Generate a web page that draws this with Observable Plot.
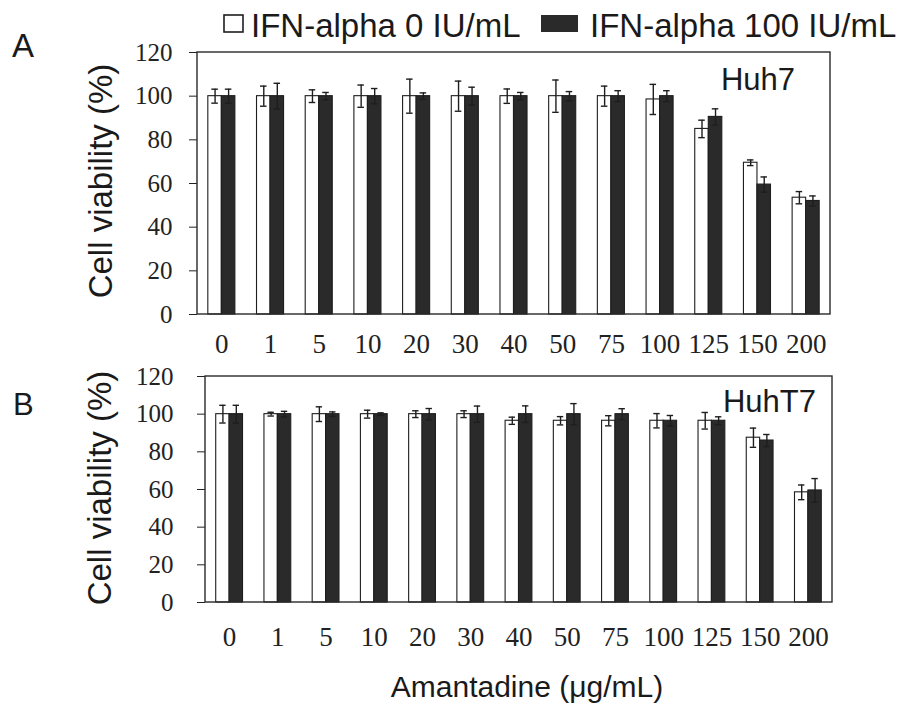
<!DOCTYPE html>
<html>
<head>
<meta charset="utf-8">
<script src="https://cdn.jsdelivr.net/npm/d3@7"></script>
<script src="https://cdn.jsdelivr.net/npm/@observablehq/plot@0.6"></script>
<style>
  html, body { margin: 0; padding: 0; background: #fff; }
  #wrap { position: relative; width: 905px; height: 706px; overflow: hidden; }
  #wrap > svg, #wrap > figure { position: absolute; left: 0; margin: 0; overflow: visible; }
  g[aria-label="y-axis tick label"] { font-family: "Liberation Serif", serif; font-size: 25px; }
  g[aria-label="fx-axis tick label"] { font-family: "Liberation Serif", serif; font-size: 27px; }
  .ann { font-family: "Liberation Sans", Arial, sans-serif; fill: #1a1a1a; }
</style>
</head>
<body>
<div id="wrap"></div>
<script>
// ---- data ----
const categories = ["0", "1", "5", "10", "20", "30", "40", "50", "75", "100", "125", "150", "200"];
const seriesNames = ["IFN-alpha 0 IU/mL", "IFN-alpha 100 IU/mL"];
const yTicks = [0, 20, 40, 60, 80, 100, 120];

// Panel A: Huh7
const huh7Ifn0      = [100, 100, 100, 100, 100, 100, 100, 100, 100, 98.5, 85, 69.5, 53.5];
const huh7Ifn0Err   = [3.2, 4.6, 2.9, 5.1, 7.8, 6.9, 3.3, 7.4, 4.6, 6.9, 4.0, 1.3, 2.8];
const huh7Ifn100    = [100, 100, 100, 100, 100, 100, 100, 100, 100, 100, 90.5, 59.5, 52];
const huh7Ifn100Err = [3.2, 5.9, 1.7, 3.5, 1.5, 4.1, 1.7, 2.1, 2.5, 2.5, 3.7, 3.5, 2.3];

// Panel B: HuhT7
const huhT7Ifn0      = [100, 100, 100, 100, 100, 100, 96.5, 96.5, 96.5, 96.5, 96.5, 87.5, 58.5];
const huhT7Ifn0Err   = [4.7, 1.0, 3.9, 2.1, 1.8, 1.8, 1.9, 2.2, 2.7, 3.8, 4.4, 5.1, 3.9];
const huhT7Ifn100    = [100, 100, 100, 100, 100, 100, 100, 100, 100, 96.5, 96.5, 86, 59.5];
const huhT7Ifn100Err = [4.7, 1.5, 1.2, 0.7, 3.0, 4.3, 4.4, 5.6, 2.9, 2.8, 2.1, 3.2, 6.3];

function rows(v0, e0, v1, e1) {
  const out = [];
  categories.forEach((c, i) => {
    out.push({cat: c, series: seriesNames[0], value: v0[i], err: e0[i]});
    out.push({cat: c, series: seriesNames[1], value: v1[i], err: e1[i]});
  });
  return out;
}

function panel(data, opt) {
  const chart = Plot.plot({
    width: 905,
    height: opt.height,
    marginTop: opt.mt,
    marginBottom: opt.mb,
    marginLeft: opt.ml,
    marginRight: opt.mr,
    style: {color: "#222", background: "transparent", fontFamily: "Liberation Serif", overflow: "visible"},
    fx: {domain: categories, padding: 0, round: false, label: null, tickSize: 0, tickPadding: opt.fxPad, axis: "bottom"},
    x: {domain: seriesNames, paddingInner: 0, paddingOuter: 0.8, round: false, axis: null},
    y: {domain: [0, 120], ticks: yTicks, tickSize: 8, tickPadding: opt.yPad, label: null},
    color: {domain: seriesNames, range: ["#ffffff", "#2a2a2a"]},
    marks: [
      Plot.barY(data, {fx: "cat", x: "series", y: "value", fill: "series", stroke: "#1e1e1e", strokeWidth: 1.1}),
      Plot.ruleX(data, {fx: "cat", x: "series", y1: d => d.value - d.err, y2: d => d.value + d.err, stroke: "#1e1e1e", strokeWidth: 1.4}),
      Plot.tickY(data, {fx: "cat", x: "series", y: d => d.value + d.err, stroke: "#1e1e1e", strokeWidth: 1.4, insetLeft: 3.5, insetRight: 3.5}),
      Plot.tickY(data, {fx: "cat", x: "series", y: d => d.value - d.err, stroke: "#1e1e1e", strokeWidth: 1.4, insetLeft: 3.5, insetRight: 3.5})
    ]
  });
  const svg = chart.tagName.toLowerCase() === "svg" ? chart : chart.querySelector("svg");
  // plot-area box (frame) derived from the margins
  d3.select(svg).append("rect")
    .attr("x", opt.ml).attr("y", opt.mt)
    .attr("width", 905 - opt.ml - opt.mr)
    .attr("height", opt.height - opt.mt - opt.mb)
    .attr("fill", "none").attr("stroke", "#2a2a2a").attr("stroke-width", 1.4);
  chart.style.top = opt.top + "px";
  return chart;
}

const wrap = document.getElementById("wrap");
wrap.appendChild(panel(rows(huh7Ifn0, huh7Ifn0Err, huh7Ifn100, huh7Ifn100Err),
  {top: 30, height: 330, mt: 22, mb: 46, ml: 197, mr: 75, yPad: 17, fxPad: 19}));
wrap.appendChild(panel(rows(huhT7Ifn0, huhT7Ifn0Err, huhT7Ifn100, huhT7Ifn100Err),
  {top: 355, height: 310, mt: 21, mb: 63, ml: 205, mr: 73, yPad: 24, fxPad: 24}));

// ---- annotations: panel letters, legend, axis titles, cell-line labels ----
const ann = d3.create("svg").attr("width", 905).attr("height", 706)
  .style("top", "0px").style("pointer-events", "none");
function t(x, y, s, size, anchor, transform) {
  const e = ann.append("text").attr("class", "ann").attr("font-size", size)
    .attr("text-anchor", anchor || "start").text(s);
  if (transform) e.attr("transform", transform); else e.attr("x", x).attr("y", y);
  return e;
}
t(12, 57, "A", 33);
t(13, 415, "B", 31);
// legend
ann.append("rect").attr("x", 224).attr("y", 15).attr("width", 19).attr("height", 17)
  .attr("fill", "#fff").attr("stroke", "#1e1e1e").attr("stroke-width", 1.6);
t(251, 37, seriesNames[0], 33);
ann.append("rect").attr("x", 541).attr("y", 15).attr("width", 37).attr("height", 17)
  .attr("fill", "#2a2a2a");
t(590, 37, seriesNames[1], 33);
// axis titles
t(0, 0, "Cell viability (%)", 33, "middle", "translate(112,181) rotate(-90)");
t(0, 0, "Cell viability (%)", 33, "middle", "translate(111,488) rotate(-90)");
t(527, 697, "Amantadine (\u03BCg/mL)", 30, "middle");
// cell-line labels
t(795, 90, "Huh7", 31, "end");
t(816, 412, "HuhT7", 31, "end");
wrap.appendChild(ann.node());
</script>
</body>
</html>
